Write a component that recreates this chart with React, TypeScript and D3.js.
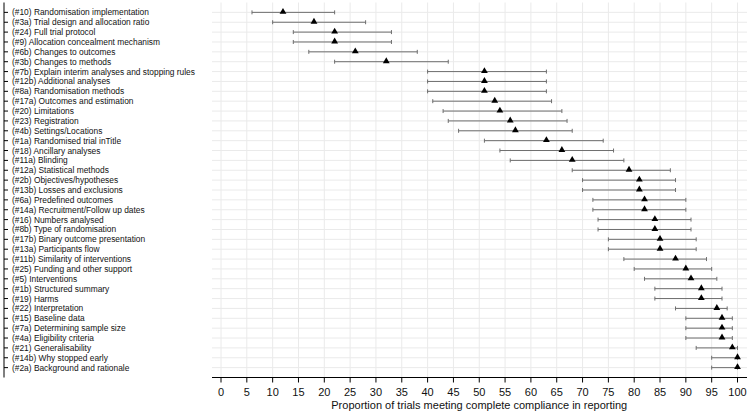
import React from "react";
import * as d3 from "d3";

const labels: string[] = [
  "(#10) Randomisation implementation",
  "(#3a) Trial design and allocation ratio",
  "(#24) Full trial protocol",
  "(#9) Allocation concealment mechanism",
  "(#6b) Changes to outcomes",
  "(#3b) Changes to methods",
  "(#7b) Explain interim analyses and stopping rules",
  "(#12b) Additional analyses",
  "(#8a) Randomisation methods",
  "(#17a) Outcomes and estimation",
  "(#20) Limitations",
  "(#23) Registration",
  "(#4b) Settings/Locations",
  "(#1a) Randomised trial inTitle",
  "(#18) Ancillary analyses",
  "(#11a) Blinding",
  "(#12a) Statistical methods",
  "(#2b) Objectives/hypotheses",
  "(#13b) Losses and exclusions",
  "(#6a) Predefined outcomes",
  "(#14a) Recruitment/Follow up dates",
  "(#16) Numbers analysed",
  "(#8b) Type of randomisation",
  "(#17b) Binary outcome presentation",
  "(#13a) Participants flow",
  "(#11b) Similarity of interventions",
  "(#25) Funding and other support",
  "(#5) Interventions",
  "(#1b) Structured summary",
  "(#19) Harms",
  "(#22) Interpretation",
  "(#15) Baseline data",
  "(#7a) Determining sample size",
  "(#4a) Eligibility criteria",
  "(#21) Generalisability",
  "(#14b) Why stopped early",
  "(#2a) Background and rationale",
];

const estimates: number[] = [
  12, 18, 22, 22, 26, 32, 51, 51, 51, 53, 54, 56, 57, 63, 66, 68, 79, 81, 81,
  82, 82, 84, 84, 85, 85, 88, 90, 91, 93, 93, 96, 97, 97, 97, 99, 100, 100,
];

const lower: number[] = [
  6, 10, 14, 14, 17, 22, 40, 40, 40, 41, 43, 44, 46, 51, 54, 56, 68, 70, 70,
  72, 72, 73, 73, 75, 75, 78, 80, 82, 84, 84, 88, 90, 90, 90, 92, 95, 95,
];

const upper: number[] = [
  22, 28, 33, 33, 38, 44, 63, 63, 63, 64, 66, 67, 68, 74, 76, 78, 87, 88, 88,
  90, 90, 91, 91, 92, 92, 94, 95, 96, 97, 97, 98, 99, 99, 99, 100, 100, 100,
];

const xTicks: number[] = d3.range(0, 101, 5);
const xTitle = "Proportion of trials meeting complete compliance in reporting";

const W = 750;
const H = 416;
const FONT = "'Liberation Sans', Arial, sans-serif";

export default function App() {
  const x = d3.scaleLinear().domain([0, 100]).range([221, 737.5]);
  const y = d3.scaleLinear().domain([0, labels.length + 1]).range([2.5, 377.5]);
  const plotLeft = 212;
  const plotRight = 747;
  const axisY = y(labels.length + 1);
  const tri = d3.symbol().type(d3.symbolTriangle).size(20)();

  return (
    <svg
      width={W}
      height={H}
      style={{ position: "absolute", left: 0, top: 0, background: "#fff" }}
      fontFamily={FONT}
    >
      <rect x={0} y={0} width={W} height={H} fill="#fff" />
      {/* vertical grid */}
      {xTicks.map((t) => (
        <line
          key={"vg" + t}
          x1={x(t)}
          x2={x(t)}
          y1={y(0)}
          y2={axisY}
          stroke="#eaeaea"
          strokeWidth={1}
        />
      ))}
      {/* horizontal grid */}
      {labels.map((l, i) => (
        <line
          key={"hg" + i}
          x1={plotLeft}
          x2={plotRight}
          y1={y(i + 1)}
          y2={y(i + 1)}
          stroke="#eaeaea"
          strokeWidth={1}
        />
      ))}
      {/* left axis */}
      <line x1={4} x2={4} y1={y(0)} y2={axisY} stroke="#000" strokeWidth={1} />
      {labels.map((l, i) => (
        <g key={"yl" + i}>
          <line x1={4} x2={8} y1={y(i + 1)} y2={y(i + 1)} stroke="#000" strokeWidth={1} />
          <text x={12} y={y(i + 1)} dy="0.36em" fontSize={8.4} fill="#111">
            {l}
          </text>
        </g>
      ))}
      {/* error bars */}
      {labels.map((l, i) => {
        const yy = y(i + 1);
        return (
          <g key={"eb" + i} stroke="#6e6e6e" strokeWidth={1}>
            <line x1={x(lower[i])} x2={x(upper[i])} y1={yy} y2={yy} />
            <line x1={x(lower[i])} x2={x(lower[i])} y1={yy - 2} y2={yy + 2} />
            <line x1={x(upper[i])} x2={x(upper[i])} y1={yy - 2} y2={yy + 2} />
          </g>
        );
      })}
      {/* markers */}
      {labels.map((l, i) => (
        <path
          key={"pt" + i}
          d={tri || ""}
          transform={`translate(${x(estimates[i])},${y(i + 1) - 0.5})`}
          fill="#000"
        />
      ))}
      {/* x axis */}
      <line x1={plotLeft} x2={plotRight} y1={axisY} y2={axisY} stroke="#000" strokeWidth={1.2} />
      {xTicks.map((t) => (
        <g key={"xt" + t}>
          <line x1={x(t)} x2={x(t)} y1={axisY} y2={axisY + 5} stroke="#000" strokeWidth={1} />
          <text x={x(t)} y={396} textAnchor="middle" fontSize={11} fill="#111">
            {t}
          </text>
        </g>
      ))}
      <text x={(x(0) + x(100)) / 2} y={409} textAnchor="middle" fontSize={11} fill="#111">
        {xTitle}
      </text>
    </svg>
  );
}
